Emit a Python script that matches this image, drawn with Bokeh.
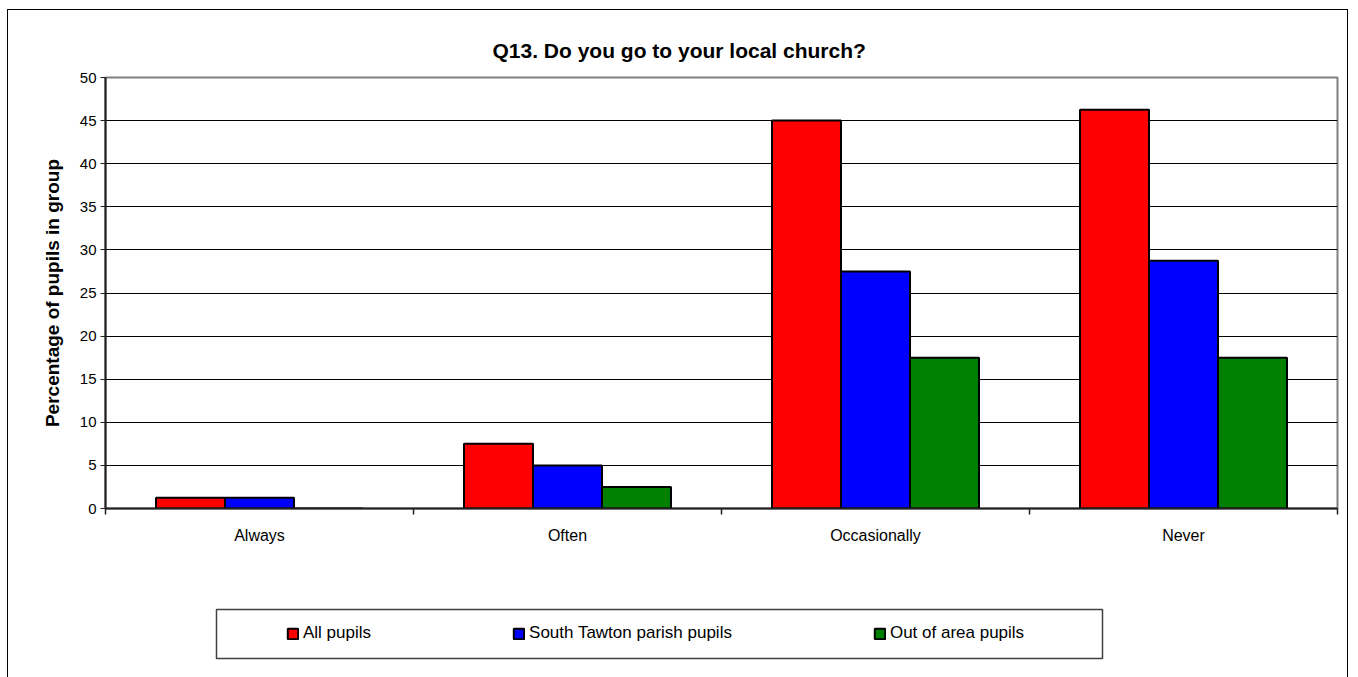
from bokeh.plotting import figure
from bokeh.layouts import column
from bokeh.models import (Range1d, FixedTicker, LinearAxis, Legend, LegendItem,
                          BoxAnnotation, Title, Grid, ColumnDataSource)
from bokeh.embed import file_html
from bokeh.resources import INLINE
import numpy as np

# ---- data ----
categories = ["Always", "Often", "Occasionally", "Never"]
all_pupils = [1.25, 7.5, 45, 46.25]
south_tawton = [1.25, 5, 27.5, 28.75]
out_of_area = [0, 2.5, 17.5, 17.5]
series_names = ["All pupils", "South Tawton parish pupils", "Out of area pupils"]
series_values = [all_pupils, south_tawton, out_of_area]
series_colors = ["#FF0000", "#0000FF", "#008000"]
y_ticks = [0, 5, 10, 15, 20, 25, 30, 35, 40, 45, 50]
title_text = "Q13. Do you go to your local church?"
y_label = "Percentage of pupils in group"

FONT = "Liberation Sans"
W = 1339
H1, H2 = 550, 117
BL, BR = 97, 10          # side borders around the plot frame

# ---------------- main chart ----------------
p = figure(width=W, height=H1, output_backend="svg", toolbar_location=None,
           x_range=Range1d(0, len(categories)), y_range=Range1d(0, 50),
           x_axis_type=None, y_axis_type=None,
           min_border_left=BL, min_border_right=BR, min_border_top=67, min_border_bottom=52)
p.outline_line_color = "#808080"
p.outline_line_width = 2
p.background_fill_color = "white"
p.border_fill_color = "white"

p.title = Title(text=title_text, align="left", offset=387,
                text_font=FONT, text_font_size="21px", text_font_style="bold",
                text_color="black", standoff=32)

grid = Grid(dimension=1, ticker=FixedTicker(ticks=y_ticks[1:-1]),
            grid_line_color="black", grid_line_width=1)
p.add_layout(grid, "center")

centers = np.arange(len(categories)) + 0.5
bw = 0.224
offsets = [-bw, 0.0, bw]
sources = []
for name, vals, col, off in zip(series_names, series_values, series_colors, offsets):
    src = ColumnDataSource(dict(x=centers + off, top=vals))
    sources.append(src)
    p.vbar(x="x", top="top", width=bw, source=src, fill_color=col,
           line_color="black", line_width=2)

yax = LinearAxis(ticker=FixedTicker(ticks=y_ticks),
                 axis_label=y_label,
                 axis_label_text_font=FONT, axis_label_text_font_size="19px",
                 axis_label_text_font_style="bold", axis_label_text_color="black",
                 axis_label_standoff=14,
                 major_label_text_font=FONT, major_label_text_font_size="15px",
                 major_label_text_color="black",
                 axis_line_color="#202020", axis_line_width=2,
                 major_tick_line_color="#202020", major_tick_out=5, major_tick_in=0,
                 minor_tick_line_color=None, major_label_standoff=4)
p.add_layout(yax, "left")

xax = LinearAxis(ticker=FixedTicker(ticks=list(centers),
                                    minor_ticks=list(range(len(categories) + 1))),
                 major_label_overrides={float(c): lab for c, lab in zip(centers, categories)},
                 major_label_text_font=FONT, major_label_text_font_size="16px",
                 major_label_text_color="black",
                 axis_line_color="#202020", axis_line_width=2,
                 major_tick_line_color=None, major_tick_out=0, major_tick_in=0,
                 minor_tick_line_color="#202020", minor_tick_out=6, minor_tick_in=0,
                 minor_tick_line_width=1.5, major_label_standoff=12)
p.add_layout(xax, "below")

# ---------------- legend strip (frame aligned with the chart's frame) ----------------
# x range in page pixels of the frame span, y range in strip pixels (top = 0)
FX0, FX1 = 8 + BL, 8 + W - BR
p2 = figure(width=W, height=H2, output_backend="svg", toolbar_location=None,
            x_range=Range1d(FX0, FX1), y_range=Range1d(H2, 0),
            x_axis_type=None, y_axis_type=None,
            min_border_left=BL, min_border_right=BR, min_border_top=0, min_border_bottom=0)
p2.outline_line_color = None
p2.background_fill_color = "white"
p2.border_fill_color = "white"

legend_renderers = []
for src, col in zip(sources, series_colors):
    legend_renderers.append(p2.vbar(x="x", top="top", width=bw, source=src, fill_color=col,
                                    line_color="black", line_width=2, visible=False))

legend_box = BoxAnnotation(left=216, right=1102, top=49, bottom=98,
                           fill_alpha=0, line_color="#404040", line_alpha=1, line_width=1.5)
p2.add_layout(legend_box)

leg = Legend(items=[LegendItem(label=n, renderers=[r]) for n, r in zip(series_names, legend_renderers)],
             location=(286 - FX0, 34), orientation="horizontal",
             border_line_color=None, background_fill_alpha=0,
             padding=0, margin=0, spacing=141, click_policy="none",
             inactive_fill_alpha=0,
             glyph_width=13, glyph_height=13, label_standoff=4, label_height=20,
             label_text_font=FONT, label_text_font_size="17px", label_text_color="black")
p2.add_layout(leg, "center")

layout = column(p, p2, spacing=0, margin=(9, 0, 0, 7),
                styles={"border-left": "1px solid black", "border-top": "1px solid black",
                        "border-right": "1px solid black"})

open("out.html", "w").write(file_html(layout, INLINE))
